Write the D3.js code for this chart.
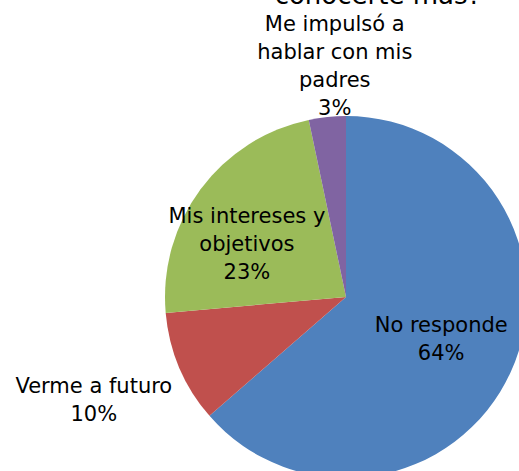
<!DOCTYPE html>
<html>
<head>
<meta charset="utf-8">
<style>
  body{ margin:0; background:#fff; overflow:hidden; }
  #chart{ display:block; }
  text{ font-family:"DejaVu Sans", sans-serif; fill:#000; }
</style>
<script src="https://cdn.jsdelivr.net/npm/d3@7"></script>
</head>
<body>
<svg id="chart"></svg>
<script>
// data
var categories = ["No responde", "Verme a futuro", "Mis intereses y objetivos", "Me impulsó a hablar con mis padres"];
var values = [63.6, 10.0, 23.1, 3.3];
var labelLines = [["No responde"], ["Verme a futuro"], ["Mis intereses y", "objetivos"], ["Me impulsó a", "hablar con mis", "padres"]];
var colors = ["#4f81bd", "#c0504d", "#9bbb59", "#8064a2"];
var titleText = "conocerte más?";

var width = 519, height = 471;
var cx = 346, cy = 297, radius = 181;
// label distance from the centre (share of radius) and a small nudge
var labelDist = [0.59, 1.52, 0.64, 1.24];
var labelShift = [[-2, -2], [1, -5], [-6, 16], [12, -8]];
var lineH = 28;

var svg = d3.select("#chart").attr("width", width).attr("height", height);

// title is mostly above the visible area in the reference
svg.append("text")
  .attr("x", 378).attr("y", 4)
  .attr("text-anchor", "middle")
  .style("font-size", "26px")
  .text(titleText);

var pie = d3.pie().sort(null).value(function(d){ return d; });
var arcs = pie(values);
var arc = d3.arc().innerRadius(0).outerRadius(radius);
var total = d3.sum(values);

var g = svg.append("g").attr("transform", "translate(" + cx + "," + cy + ")");

g.selectAll("path.slice")
  .data(arcs)
  .enter().append("path")
  .attr("class", "slice")
  .attr("d", arc)
  .attr("fill", function(d, i){ return colors[i]; });

var labels = g.selectAll("text.lab")
  .data(arcs)
  .enter().append("text")
  .attr("class", "lab")
  .attr("text-anchor", "middle")
  .style("font-size", "21px")
  .attr("transform", function(d, i){
    var r = radius * labelDist[i];
    var c = d3.arc().innerRadius(r).outerRadius(r).centroid(d);
    return "translate(" + (c[0] + labelShift[i][0]) + "," + (c[1] + labelShift[i][1]) + ")";
  });

labels.each(function(d, i){
  var lines = labelLines[i].concat([Math.round(d.value / total * 100) + "%"]);
  var t = d3.select(this);
  var y0 = -(lines.length - 1) * lineH / 2 + 7;
  lines.forEach(function(s, k){
    t.append("tspan").attr("x", 0).attr("y", y0 + k * lineH).text(s);
  });
});
</script>
</body>
</html>
